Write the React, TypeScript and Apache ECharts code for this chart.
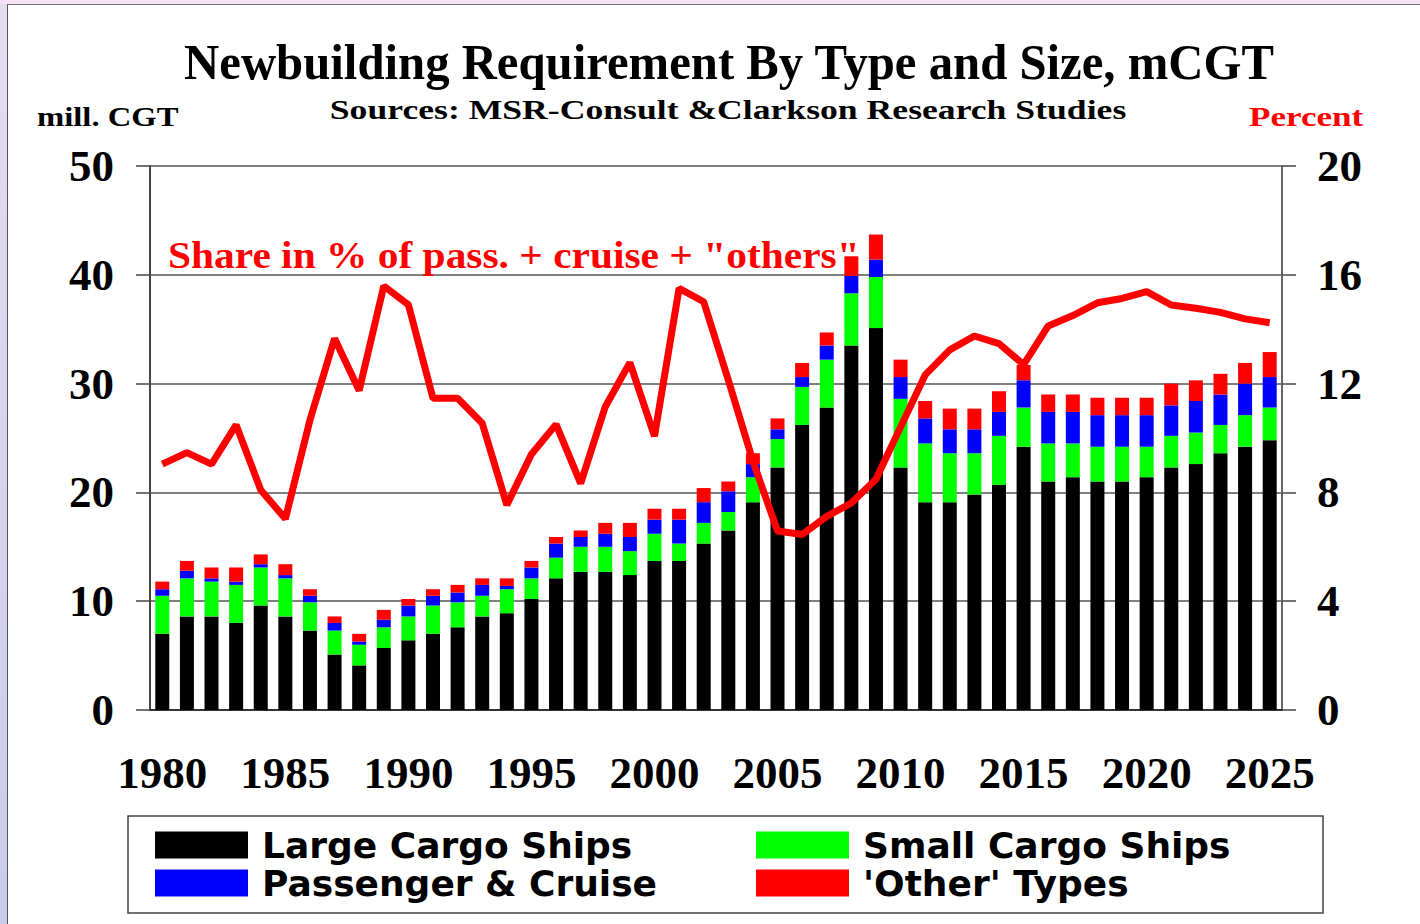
import React, { useEffect, useRef } from "react";
import * as echarts from "echarts";

const years = [
  "1980","1981","1982","1983","1984","1985","1986","1987","1988","1989",
  "1990","1991","1992","1993","1994","1995","1996","1997","1998","1999",
  "2000","2001","2002","2003","2004","2005","2006","2007","2008","2009",
  "2010","2011","2012","2013","2014","2015","2016","2017","2018","2019",
  "2020","2021","2022","2023","2024","2025",
];

const largeCargo = [
  7.0, 8.6, 8.6, 8.0, 9.6, 8.6, 7.3, 5.1, 4.1, 5.7,
  6.4, 7.0, 7.6, 8.6, 8.9, 10.2, 12.1, 12.7, 12.7, 12.4,
  13.7, 13.7, 15.3, 16.5, 19.1, 22.3, 26.2, 27.8, 33.5, 35.1,
  22.3, 19.1, 19.1, 19.8, 20.7, 24.2, 21.0, 21.4, 21.0, 21.0,
  21.4, 22.3, 22.6, 23.6, 24.2, 24.8,
];

const smallCargo = [
  3.5, 3.5, 3.2, 3.5, 3.5, 3.5, 2.6, 2.2, 1.9, 1.9,
  2.2, 2.6, 2.3, 1.9, 2.2, 1.9, 1.9, 2.3, 2.3, 2.2,
  2.5, 1.6, 1.9, 1.7, 2.3, 2.6, 3.5, 4.4, 4.8, 4.7,
  6.3, 5.4, 4.5, 3.8, 4.5, 3.6, 3.5, 3.1, 3.2, 3.2,
  2.8, 2.9, 2.9, 2.6, 2.9, 3.0,
];

const passengerCruise = [
  0.6, 0.7, 0.3, 0.3, 0.3, 0.3, 0.6, 0.7, 0.3, 0.7,
  1.0, 0.9, 0.9, 1.0, 0.3, 1.0, 1.3, 0.9, 1.2, 1.3,
  1.3, 2.2, 1.9, 1.9, 1.2, 0.9, 0.9, 1.3, 1.6, 1.6,
  2.0, 2.3, 2.2, 2.2, 2.2, 2.5, 2.9, 2.9, 2.9, 2.9,
  2.9, 2.8, 2.9, 2.8, 2.9, 2.8,
];

const otherTypes = [
  0.7, 0.9, 1.0, 1.3, 0.9, 1.0, 0.6, 0.6, 0.7, 0.9,
  0.6, 0.6, 0.7, 0.6, 0.7, 0.6, 0.6, 0.6, 1.0, 1.3,
  1.0, 1.0, 1.3, 0.9, 1.0, 1.0, 1.3, 1.2, 1.8, 2.3,
  1.6, 1.6, 1.9, 1.9, 1.9, 1.4, 1.6, 1.6, 1.6, 1.6,
  1.6, 2.0, 1.9, 1.9, 1.9, 2.3,
];

const sharePercent = [
  9.04, 9.46, 9.04, 10.48, 8.09, 7.03, 10.66, 13.66, 11.75, 15.59,
  14.9, 11.46, 11.46, 10.54, 7.54, 9.4, 10.5, 8.33, 11.15, 12.77,
  10.07, 15.5, 15.01, 12.13, 9.15, 6.58, 6.45, 7.12, 7.61, 8.48,
  10.4, 12.32, 13.24, 13.75, 13.47, 12.7, 14.12, 14.5, 14.97, 15.13,
  15.38, 14.89, 14.77, 14.62, 14.38, 14.24,
];

const leftTicks = { min: 0, max: 50, interval: 10 };
const rightTicks = { min: 0, max: 20, interval: 4 };

const SERIF = "'Liberation Serif', 'Times New Roman', serif";
const SANS = "'DejaVu Sans', sans-serif";

export default function App() {
  const ref = useRef<HTMLDivElement>(null);

  useEffect(() => {
    if (!ref.current) return;
    const chart = echarts.init(ref.current, undefined, { renderer: "svg" });

    const axisLabelStyle = {
      fontFamily: SERIF,
      fontWeight: "bold" as const,
      fontSize: 45,
      color: "#000",
    };

    const barSeries = (name: string, data: number[], color: string) => ({
      name,
      type: "bar",
      stack: "total",
      barWidth: 14,
      data,
      itemStyle: { color },
      emphasis: { disabled: true },
    });

    const legendItem = (name: string, left: number, top: number) => ({
      left,
      top,
      orient: "horizontal",
      icon: "rect",
      itemWidth: 93,
      itemHeight: 27,
      selectedMode: false,
      padding: 0,
      data: [name],
      textStyle: {
        fontFamily: SANS,
        fontWeight: "bold",
        fontSize: 36,
        color: "#000",
        padding: [0, 0, 0, 9],
      },
    });

    const option = {
      animation: false,
      grid: { left: 150, right: 138, top: 166, bottom: 214 },
      xAxis: {
        type: "category",
        data: years,
        boundaryGap: true,
        axisLine: { lineStyle: { color: "#333", width: 2 } },
        axisTick: { interval: 4, length: 12, lineStyle: { color: "#333", width: 1.5 } },
        axisLabel: { ...axisLabelStyle, interval: 4, margin: 40 },
      },
      yAxis: [
        {
          type: "value",
          position: "left",
          ...leftTicks,
          axisLine: { show: true, lineStyle: { color: "#444", width: 2 } },
          axisTick: { show: true, length: 14, lineStyle: { color: "#444", width: 1.5 } },
          splitLine: { show: true, lineStyle: { color: "#555", width: 1.5 } },
          axisLabel: { ...axisLabelStyle, margin: 36 },
        },
        {
          type: "value",
          position: "right",
          ...rightTicks,
          axisLine: { show: true, lineStyle: { color: "#666", width: 2 } },
          axisTick: { show: true, length: 14, lineStyle: { color: "#444", width: 1.5 } },
          splitLine: { show: false },
          axisLabel: { ...axisLabelStyle, margin: 35 },
        },
      ],
      legend: [
        legendItem("Large Cargo Ships", 155, 827),
        legendItem("Passenger & Cruise", 155, 865),
        legendItem("Small Cargo Ships", 756, 827),
        legendItem("'Other' Types", 756, 865),
      ],
      series: [
        barSeries("Large Cargo Ships", largeCargo, "#000000"),
        barSeries("Small Cargo Ships", smallCargo, "#00ff00"),
        barSeries("Passenger & Cruise", passengerCruise, "#0000ff"),
        barSeries("'Other' Types", otherTypes, "#ff0000"),
        {
          name: "Share",
          type: "line",
          yAxisIndex: 1,
          data: sharePercent,
          symbol: "none",
          z: 5,
          lineStyle: { color: "#ff0000", width: 7 },
          itemStyle: { color: "#ff0000" },
          emphasis: { disabled: true },
        },
      ],
      graphic: [
        {
          type: "text",
          x: 729,
          y: 62,
          scaleX: 0.975,
          style: {
            text: "Newbuilding Requirement By Type and Size, mCGT",
            fontFamily: SERIF,
            fontWeight: "bold",
            fontSize: 50,
            fill: "#000",
            textAlign: "center",
            textVerticalAlign: "middle",
          },
        },
        {
          type: "text",
          x: 728,
          y: 110,
          scaleX: 1.32,
          style: {
            text: "Sources: MSR-Consult &Clarkson Research Studies",
            fontFamily: SERIF,
            fontWeight: "bold",
            fontSize: 27,
            fill: "#000",
            textAlign: "center",
            textVerticalAlign: "middle",
          },
        },
        {
          type: "text",
          x: 37,
          y: 117,
          scaleX: 1.21,
          style: {
            text: "mill. CGT",
            fontFamily: SERIF,
            fontWeight: "bold",
            fontSize: 27,
            fill: "#000",
            textAlign: "left",
            textVerticalAlign: "middle",
          },
        },
        {
          type: "text",
          x: 1249,
          y: 117,
          scaleX: 1.3,
          style: {
            text: "Percent",
            fontFamily: SERIF,
            fontWeight: "bold",
            fontSize: 27,
            fill: "#ff0000",
            textAlign: "left",
            textVerticalAlign: "middle",
          },
        },
        {
          type: "text",
          x: 168,
          y: 256,
          scaleX: 1.09,
          z: 10,
          style: {
            text: 'Share in % of pass. + cruise + "others"',
            fontFamily: SERIF,
            fontWeight: "bold",
            fontSize: 38,
            fill: "#ff0000",
            textAlign: "left",
            textVerticalAlign: "middle",
          },
        },
        {
          type: "rect",
          shape: { x: 128, y: 816, width: 1195, height: 97 },
          style: { fill: "none", stroke: "#444", lineWidth: 1.5 },
        },
      ],
    };

    chart.setOption(option as any);
    return () => chart.dispose();
  }, []);

  return (
    <div
      style={{
        position: "fixed",
        left: 0,
        top: 0,
        width: 1420,
        height: 924,
        background: "linear-gradient(180deg, #e6dcf2 0%, #c9cbec 100%)",
      }}
    >
      <div
        style={{
          position: "absolute",
          left: 0,
          top: 0,
          width: 1420,
          height: 4,
          background: "#f3e2f3",
        }}
      />
      <div
        style={{
          position: "absolute",
          left: 7,
          top: 4,
          width: 1413,
          height: 920,
          background: "#ffffff",
          borderLeft: "1.5px solid #555",
          borderTop: "1.5px solid #777",
          boxSizing: "border-box",
        }}
      />
      <div
        ref={ref}
        style={{ position: "absolute", left: 0, top: 0, width: 1420, height: 924 }}
      />
    </div>
  );
}
